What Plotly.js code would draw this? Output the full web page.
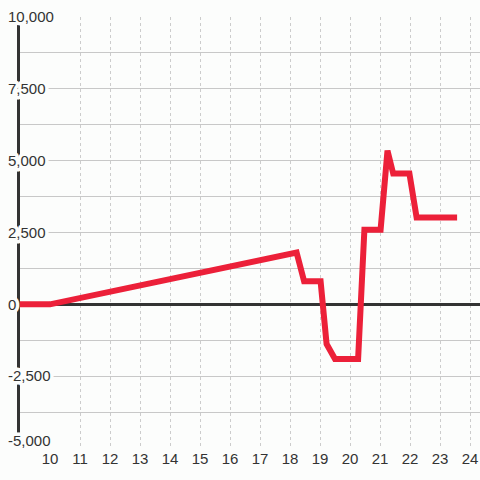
<!DOCTYPE html>
<html>
<head>
<meta charset="utf-8">
<script src="https://cdn.plot.ly/plotly-3.0.1.min.js"></script>
<style>
  html, body { margin: 0; padding: 0; background: #fcfdfc; }
  #chart { width: 480px; height: 480px; }
  .ytick, .ytick text, .xtick, .xtick text { opacity: 1 !important; display: inline !important; visibility: visible !important; }
  .ytick text { stroke: #fcfdfc; stroke-width: 7px; paint-order: stroke fill; stroke-linejoin: round; }
  .yaxislayer-above .ytick:first-child text { translate: 0px -7px; }
</style>
</head>
<body>
<div id="chart"></div>
<script>
// Data
const xValues = [9, 10, 18.22, 18.47, 19.02, 19.22, 19.5, 20.27, 20.48, 21.02, 21.25, 21.44, 21.98, 22.22, 23.57];
const yValues = [0, 0, 1800, 800, 800, -1380, -1900, -1900, 2600, 2600, 5350, 4550, 4550, 3020, 3020];

const xTickVals = [10, 11, 12, 13, 14, 15, 16, 17, 18, 19, 20, 21, 22, 23, 24];
const xTickText = ["10", "11", "12", "13", "14", "15", "16", "17", "18", "19", "20", "21", "22", "23", "24"];
const yTickVals = [-5000, -3750, -2500, -1250, 0, 1250, 2500, 3750, 5000, 6250, 7500, 8750, 10000];
const yTickText = ["-5,000", "", "-2,500", "", "0", "", "2,500", "", "5,000", "", "7,500", "", "10,000"];

const fontFamily = '"Liberation Sans", Arial, sans-serif';
const bg = '#fcfdfc';

const trace = {
  x: xValues,
  y: yValues,
  type: 'scatter',
  mode: 'lines',
  line: { color: '#ec2039', width: 6 },
  hoverinfo: 'skip'
};

const layout = {
  width: 480,
  height: 480,
  margin: { l: 20, r: 0, t: 17, b: 32, pad: 0 },
  paper_bgcolor: bg,
  plot_bgcolor: bg,
  showlegend: false,
  font: { family: fontFamily, size: 15, color: '#333333' },
  xaxis: {
    range: [9, 24.3333],
    tickmode: 'array',
    tickvals: xTickVals,
    ticktext: xTickText,
    showgrid: true,
    gridcolor: '#cccccc',
    gridwidth: 1,
    griddash: '3px,3px',
    zeroline: false,
    showline: false,
    ticks: '',
    tickfont: { family: fontFamily, size: 15, color: '#333333' },
    fixedrange: true
  },
  yaxis: {
    range: [-5000, 10000],
    tickmode: 'array',
    tickvals: yTickVals,
    ticktext: yTickText,
    showgrid: true,
    gridcolor: '#c8c8c8',
    gridwidth: 1,
    zeroline: true,
    zerolinecolor: '#333333',
    zerolinewidth: 3,
    showline: true,
    linecolor: '#333333',
    linewidth: 3,
    ticks: '',
    ticklabelposition: 'inside',
    ticklabelstandoff: -12,
    tickfont: { family: fontFamily, size: 15, color: '#333333' },
    fixedrange: true
  }
};

Plotly.newPlot('chart', [trace], layout, { staticPlot: true, displayModeBar: false });
</script>
</body>
</html>
